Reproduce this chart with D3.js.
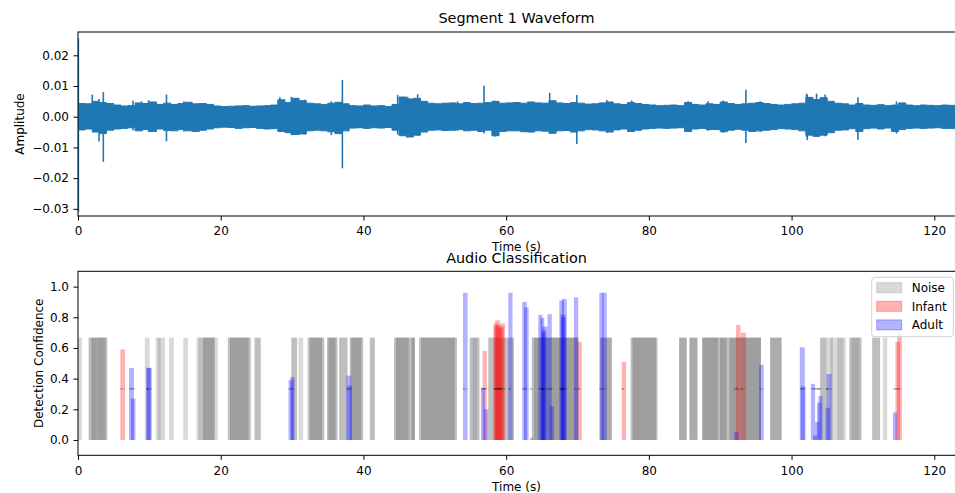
<!DOCTYPE html>
<html>
<head>
<meta charset="utf-8">
<script src="https://cdn.jsdelivr.net/npm/d3@7"></script>
<style>
  body { margin: 0; background: #fff; }
  svg { display: block; font-family: "DejaVu Sans", sans-serif; }
  .axis path, .axis line { stroke: #000; }
  .axis text { font-size: 12px; fill: #000; font-family: "DejaVu Sans", sans-serif; }
</style>
</head>
<body>
<div id="chart"></div>
<script>
// Waveform envelope, one value per second (t = 0..123 s)
const waveHi = [0.0043,0.0042,0.0050,0.0046,0.0043,0.0038,0.0035,0.0036,0.0045,0.0043,
  0.0048,0.0040,0.0044,0.0040,0.0043,0.0047,0.0042,0.0043,0.0040,0.0035,
  0.0033,0.0034,0.0035,0.0036,0.0034,0.0035,0.0036,0.0038,0.0055,0.0046,
  0.0060,0.0052,0.0044,0.0042,0.0040,0.0044,0.0047,0.0042,0.0036,0.0035,
  0.0038,0.0035,0.0036,0.0033,0.0040,0.0064,0.0058,0.0060,0.0050,0.0044,
  0.0042,0.0044,0.0045,0.0042,0.0046,0.0043,0.0044,0.0046,0.0050,0.0044,
  0.0045,0.0046,0.0044,0.0048,0.0045,0.0044,0.0052,0.0045,0.0043,0.0046,
  0.0044,0.0041,0.0042,0.0045,0.0048,0.0042,0.0040,0.0046,0.0043,0.0040,
  0.0038,0.0036,0.0037,0.0038,0.0036,0.0046,0.0040,0.0038,0.0042,0.0040,
  0.0048,0.0043,0.0040,0.0042,0.0044,0.0046,0.0043,0.0040,0.0038,0.0040,
  0.0042,0.0044,0.0063,0.0056,0.0062,0.0050,0.0044,0.0042,0.0038,0.0043,
  0.0038,0.0037,0.0039,0.0036,0.0038,0.0045,0.0038,0.0036,0.0038,0.0037,
  0.0036,0.0038,0.0037,0.0038];
const waveLo = [-0.0043,-0.0040,-0.0050,-0.0055,-0.0044,-0.0040,-0.0038,-0.0036,-0.0046,-0.0042,
  -0.0048,-0.0040,-0.0045,-0.0046,-0.0042,-0.0046,-0.0048,-0.0044,-0.0040,-0.0036,
  -0.0034,-0.0035,-0.0038,-0.0036,-0.0035,-0.0038,-0.0040,-0.0039,-0.0048,-0.0052,
  -0.0058,-0.0056,-0.0046,-0.0044,-0.0046,-0.0049,-0.0055,-0.0046,-0.0037,-0.0036,
  -0.0038,-0.0036,-0.0037,-0.0035,-0.0044,-0.0062,-0.0066,-0.0060,-0.0050,-0.0044,
  -0.0043,-0.0045,-0.0044,-0.0042,-0.0046,-0.0044,-0.0048,-0.0044,-0.0062,-0.0048,
  -0.0046,-0.0046,-0.0049,-0.0050,-0.0046,-0.0047,-0.0054,-0.0046,-0.0045,-0.0050,
  -0.0046,-0.0042,-0.0043,-0.0046,-0.0050,-0.0043,-0.0040,-0.0048,-0.0044,-0.0040,
  -0.0038,-0.0037,-0.0038,-0.0037,-0.0036,-0.0048,-0.0040,-0.0038,-0.0042,-0.0042,
  -0.0049,-0.0044,-0.0041,-0.0044,-0.0048,-0.0046,-0.0044,-0.0042,-0.0039,-0.0040,
  -0.0042,-0.0046,-0.0060,-0.0064,-0.0060,-0.0052,-0.0044,-0.0043,-0.0039,-0.0048,
  -0.0039,-0.0037,-0.0040,-0.0037,-0.0048,-0.0042,-0.0038,-0.0037,-0.0038,-0.0037,
  -0.0036,-0.0038,-0.0038,-0.0039];
// Narrow peaks: [time, max, min]
const waveSpikes = [[0.05,0.0255,-0.031],[2.0,0.0072,-0.004],[2.95,0.0058,-0.0081],
  [3.55,0.0080,-0.0147],[12.4,0.0072,-0.0080],[37.05,0.0120,-0.0168],[56.9,0.0101,-0.0055],
  [66.1,0.0078,-0.0050],[69.9,0.0071,-0.0089],[93.6,0.0088,-0.0086],[102.2,0.0072,-0.0076],
  [103.5,0.0075,-0.0065],[109.3,0.0063,-0.0075],
  [7.7,0.0052,-0.0045],[8.9,0.0050,-0.0046],[9.9,0.0054,-0.0050],[14.85,0.0050,-0.0049],
  [28.3,0.0063,-0.0050],[29.9,0.0065,-0.0060],[30.4,0.0060,-0.0055],[31.8,0.0055,-0.0058],
  [35.5,0.0050,-0.0060],[44.8,0.0071,-0.0058],[46.2,0.0065,-0.0068],[47.6,0.0073,-0.0062],
  [53.2,0.0050,-0.0046],[58.4,0.0052,-0.0065],[74.1,0.0054,-0.0052],[77.6,0.0053,-0.0050],
  [85.5,0.0050,-0.0050],[88.3,0.0050,-0.0046],[90.4,0.0053,-0.0052],[95.6,0.0050,-0.0050],
  [102.1,0.0075,-0.0066],[104.7,0.0072,-0.0064],[114.7,0.0050,-0.0055]];

// Noise detections: [start, end, overlapping windows]
const noiseSegments = [
  [0.0,0.55,1],
  [1.5,1.85,2],[1.85,2.6,4],[2.6,2.75,3],[2.75,3.85,4],[3.85,4.1,2],
  [9.35,10.05,1],
  [10.9,11.2,1],[11.2,11.6,2],[11.6,12.2,1],
  [12.75,13.45,1],
  [14.75,15.4,1],
  [16.6,16.85,1],[16.85,17.5,2],[17.5,19.15,4],[19.15,19.6,1],
  [21.0,21.3,2],[21.3,23.9,4],[23.9,24.2,2],
  [24.75,25.6,2],
  [29.9,30.7,2],[30.9,31.55,1],
  [32.2,32.5,2],[32.5,34.2,4],[34.2,34.5,2],
  [34.9,35.1,2],[35.1,36.1,4],[36.1,36.35,2],
  [36.6,37.75,2],
  [38.1,38.3,2],[38.3,39.7,4],[39.7,39.95,2],
  [40.9,41.6,2],
  [44.3,44.55,2],[44.55,46.35,4],[46.35,46.75,2],[46.75,47.2,4],
  [47.8,48.1,2],[48.1,52.8,4],[52.8,53.1,2],
  [54.9,55.3,2],[55.3,55.9,3],[55.9,56.25,2],
  [57.5,61.1,2],
  [63.6,63.9,2],[63.9,70.1,4],
  [73.2,74.8,3],
  [77.45,77.7,2],[77.7,81.0,4],[81.0,81.2,2],
  [84.25,85.3,3],
  [85.7,86.8,3],
  [87.5,89.7,4],[89.7,89.95,2],[89.95,90.9,4],[90.9,91.3,2],[91.3,95.7,4],
  [97.0,98.6,3],
  [104.0,104.9,2],[104.9,105.4,1],[105.4,105.8,2],[105.8,106.4,1],[106.4,107.3,2],[107.3,107.6,1],
  [108.1,108.4,2],[108.4,109.5,3],[109.5,109.8,2],
  [111.3,112.4,2],
  [112.8,113.4,1]
];
const noiseLevel = 0.667;

// Infant / adult detections: [start, end, confidence]
const infantBars = [[5.93,6.6,0.59],[56.7,57.3,0.58],[58.2,58.9,0.76],[58.3,58.95,0.74],
  [58.45,59.15,0.78],[58.6,59.3,0.75],[58.9,59.5,0.73],[59.0,59.7,0.74],[59.2,59.85,0.76],
  [70.0,70.6,0.64],[76.2,76.8,0.51],[92.2,92.85,0.75],
  [92.9,93.6,0.70],[114.55,115.2,0.64],[114.8,115.45,0.70]];
const adultBars = [[7.15,7.85,0.47],[7.4,8.05,0.27],[9.57,10.25,0.47],[9.62,10.32,0.47],
  [29.5,30.2,0.39],[29.75,30.35,0.41],[37.6,38.3,0.42],[37.75,38.4,0.355],[53.95,54.6,0.96],
  [56.47,57.03,0.34],[56.9,57.5,0.2],[60.3,60.9,0.96],[62.25,62.9,0.9],[62.5,63.15,0.865],
  [63.35,63.8,0.015],[64.5,65.1,0.816],[64.8,65.35,0.795],[64.9,65.5,0.70],[65.0,65.6,0.72],
  [65.1,65.8,0.74],[65.8,66.4,0.82],
  [66.1,66.7,0.22],[67.45,68.1,0.91],[67.6,68.3,0.816],[67.7,68.35,0.80],[67.8,68.5,0.92],
  [69.5,70.1,0.93],
  [73.05,73.65,0.96],[73.45,74.1,0.96],[91.95,92.55,0.05],[95.45,96.1,0.49],
  [101.15,101.85,0.605],[101.3,101.95,0.35],[102.7,103.3,0.366],[103.0,103.6,0.03],
  [103.3,103.9,0.117],[103.55,104.15,0.243],[103.75,104.35,0.286],[104.75,105.4,0.21],
  [104.9,105.6,0.43],[114.2,114.8,0.18]];
const midLevel = 0.333;

const xTicks = [0, 20, 40, 60, 80, 100, 120];
const ampTicks = [0.02, 0.01, 0, -0.01, -0.02, -0.03];
const confTicks = [0, 0.2, 0.4, 0.6, 0.8, 1.0];
const legendItems = [
  { label: "Noise", color: "gray" },
  { label: "Infant", color: "red" },
  { label: "Adult", color: "blue" }
];

const W = 955, H = 493;
const svg = d3.select("#chart").append("svg").attr("width", W).attr("height", H);

const x = d3.scaleLinear().domain([0, 123]).range([78, 955.7]);
const yAmp = d3.scaleLinear().domain([-0.03234, 0.02759]).range([216, 32]);
const yConf = d3.scaleLinear().domain([-0.1, 1.1]).range([455.3, 271.3]);

const minus = s => s.replace("-", "\u2212");

function frame(top, bottom) {
  svg.append("rect")
    .attr("x", 78).attr("y", top)
    .attr("width", 955.7 - 78).attr("height", bottom - top)
    .attr("fill", "none").attr("stroke", "#000").attr("stroke-width", 1);
}

// ---------- Top: waveform ----------
svg.append("clipPath").attr("id", "clipTop")
  .append("rect").attr("x", 78).attr("y", 32).attr("width", 880).attr("height", 184);

const waveG = svg.append("g").attr("clip-path", "url(#clipTop)");
const area = d3.area()
  .x((d, i) => x(i))
  .y0((d, i) => yAmp(waveLo[i]))
  .y1(d => yAmp(d))
  .curve(d3.curveStepAfter);
waveG.append("path")
  .datum(waveHi)
  .attr("d", area)
  .attr("fill", "#1f77b4")
  .attr("stroke", "#1f77b4")
  .attr("stroke-width", 1);
waveG.selectAll("line.spike")
  .data(waveSpikes)
  .enter().append("line")
  .attr("class", "spike")
  .attr("x1", d => x(d[0])).attr("x2", d => x(d[0]))
  .attr("y1", d => yAmp(d[1])).attr("y2", d => yAmp(d[2]))
  .attr("stroke", "#1f77b4").attr("stroke-width", 1.6);

svg.append("g").attr("class", "axis")
  .attr("transform", "translate(0,216)")
  .call(d3.axisBottom(x).tickValues(xTicks).tickSize(4.5).tickPadding(6.3).tickFormat(d3.format("d")))
  .call(g => g.select(".domain").remove());
svg.append("g").attr("class", "axis")
  .attr("transform", "translate(78,0)")
  .call(d3.axisLeft(yAmp).tickValues(ampTicks).tickSize(4.5).tickPadding(4.5)
    .tickFormat(d => minus(d3.format(".2f")(d))))
  .call(g => g.select(".domain").remove());
frame(32, 216);

svg.append("text").attr("x", 516.5).attr("y", 23).attr("text-anchor", "middle")
  .attr("font-size", 14.4).text("Segment 1 Waveform");
svg.append("text").attr("x", 516.5).attr("y", 250.5).attr("text-anchor", "middle")
  .attr("font-size", 12).text("Time (s)");
svg.append("text").attr("transform", "translate(23.5,124) rotate(-90)")
  .attr("text-anchor", "middle").attr("font-size", 12).text("Amplitude");

// ---------- Bottom: classification ----------
svg.append("clipPath").attr("id", "clipBot")
  .append("rect").attr("x", 78).attr("y", 271.3).attr("width", 880).attr("height", 184);
const barG = svg.append("g").attr("clip-path", "url(#clipBot)");

// noise: one translucent layer per overlapping window
const noiseLayers = [];
noiseSegments.forEach(s => { for (let k = 0; k < s[2]; k++) noiseLayers.push(s); });
barG.selectAll("rect.noise")
  .data(noiseLayers)
  .enter().append("rect")
  .attr("class", "noise")
  .attr("x", d => x(d[0]))
  .attr("width", d => x(d[1]) - x(d[0]))
  .attr("y", yConf(noiseLevel))
  .attr("height", yConf(0) - yConf(noiseLevel))
  .attr("fill", "gray").attr("fill-opacity", 0.3);

function drawBars(data, color, cls) {
  barG.selectAll("rect." + cls)
    .data(data)
    .enter().append("rect")
    .attr("class", cls)
    .attr("x", d => x(d[0]))
    .attr("width", d => x(d[1]) - x(d[0]))
    .attr("y", d => yConf(d[2]))
    .attr("height", d => yConf(0) - yConf(d[2]))
    .attr("fill", color).attr("fill-opacity", 0.3);
  barG.selectAll("line." + cls)
    .data(data)
    .enter().append("line")
    .attr("class", cls)
    .attr("x1", d => x(d[0])).attr("x2", d => x(d[1]))
    .attr("y1", yConf(midLevel)).attr("y2", yConf(midLevel))
    .attr("stroke", "#000").attr("stroke-opacity", 0.45)
    .attr("stroke-width", 1).attr("stroke-dasharray", "2.5,1.5");
}
drawBars(infantBars, "red", "infant");
drawBars(adultBars, "blue", "adult");

svg.append("g").attr("class", "axis")
  .attr("transform", "translate(0,455.3)")
  .call(d3.axisBottom(x).tickValues(xTicks).tickSize(4.5).tickPadding(6.3).tickFormat(d3.format("d")))
  .call(g => g.select(".domain").remove());
svg.append("g").attr("class", "axis")
  .attr("transform", "translate(78,0)")
  .call(d3.axisLeft(yConf).tickValues(confTicks).tickSize(4.5).tickPadding(4.5).tickFormat(d3.format(".1f")))
  .call(g => g.select(".domain").remove());
frame(271.3, 455.3);

svg.append("text").attr("x", 516.5).attr("y", 262.5).attr("text-anchor", "middle")
  .attr("font-size", 14.4).text("Audio Classification");
svg.append("text").attr("x", 516.5).attr("y", 490.5).attr("text-anchor", "middle")
  .attr("font-size", 12).text("Time (s)");
svg.append("text").attr("transform", "translate(42.5,363.3) rotate(-90)")
  .attr("text-anchor", "middle").attr("font-size", 12).text("Detection Confidence");

// legend
const legend = svg.append("g");
legend.append("rect")
  .attr("x", 871.7).attr("y", 277.3).attr("width", 81.6).attr("height", 59.4)
  .attr("rx", 3).attr("fill", "#fff").attr("fill-opacity", 0.8)
  .attr("stroke", "#d0d0d0").attr("stroke-width", 1);
const items = legend.selectAll("g.item").data(legendItems).enter().append("g")
  .attr("transform", (d, i) => `translate(876.7,${282.7 + i * 18.6})`);
items.append("rect").attr("width", 25).attr("height", 10)
  .attr("fill", d => d.color).attr("fill-opacity", 0.3)
  .attr("stroke", d => d.color).attr("stroke-opacity", 0.3);
items.append("text").attr("x", 35).attr("y", 9.5).attr("font-size", 12).text(d => d.label);
</script>
</body>
</html>
